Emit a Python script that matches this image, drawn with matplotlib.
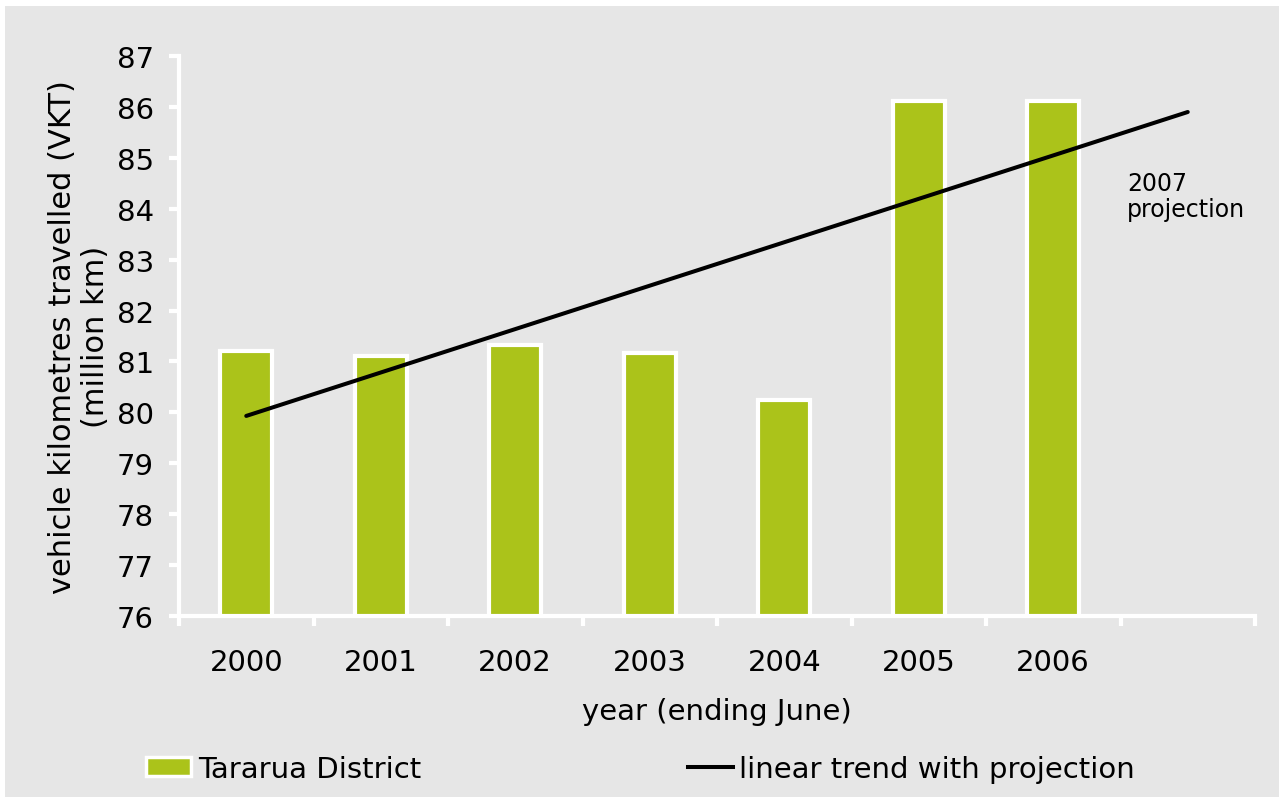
import matplotlib.pyplot as plt
from matplotlib.patches import Rectangle, Patch
from matplotlib.lines import Line2D

# data
years = ['2000', '2001', '2002', '2003', '2004', '2005', '2006']
vkt = [81.2, 81.1, 81.33, 81.17, 80.24, 86.12, 86.12]
trend_x = [0, 7]          # 2000 -> 2007 projection
trend_y = [79.93, 85.9]

bg = '#e6e6e6'
green = '#abc31a'

plt.rcParams['font.family'] = 'DejaVu Sans'
fs = 21

fig = plt.figure(figsize=(12.84, 8.03), dpi=100, facecolor='white')
fig.patches.append(Rectangle((5 / 1284, 5 / 803), 1274 / 1284, 791 / 803,
                             transform=fig.transFigure, facecolor=bg,
                             edgecolor='none', zorder=-10))

ax = fig.add_axes([179 / 1284, 186 / 803, 1076 / 1284, 560 / 803])
ax.set_facecolor(bg)

x = list(range(len(years)))
ax.bar(x, vkt, width=0.39, color=green, edgecolor='white', linewidth=3, zorder=2)
ax.plot(trend_x, trend_y, color='black', lw=2.9, solid_capstyle='round', zorder=3)

ax.set_xlim(-0.5, 7.5)
ax.set_ylim(76, 87)
ax.set_yticks(range(76, 88))

ax.set_xticks([i - 0.5 for i in range(9)])
ax.set_xticklabels([])
ax.set_xticks(x, minor=True)
ax.set_xticklabels(years, minor=True)
ax.tick_params(axis='x', which='minor', length=0, pad=23, labelsize=fs)
ax.tick_params(axis='x', which='major', length=7, width=3, color='white', direction='out')
ax.tick_params(axis='y', length=7, width=3, color='white', labelsize=fs, pad=11)

for s in ['top', 'right']:
    ax.spines[s].set_visible(False)
for s in ['left', 'bottom']:
    ax.spines[s].set_color('white')
    ax.spines[s].set_linewidth(3)

ax.set_xlabel('year (ending June)', fontsize=fs, labelpad=15)
ax.set_ylabel('vehicle kilometres travelled (VKT)\n(million km)', fontsize=22,
              labelpad=5, linespacing=1.15)

ax.text(6.55, 84.25, '2007\nprojection', fontsize=17, ha='left', va='center',
        linespacing=1.15)

fig.legend(handles=[Patch(facecolor=green, edgecolor='white', linewidth=2.5)],
           labels=['Tararua District'], loc='center left',
           bbox_to_anchor=(146 / 1284, 1 - 770 / 803), frameon=False,
           fontsize=fs, handlelength=1.55, handleheight=0.65, handletextpad=0.25,
           borderpad=0, borderaxespad=0)
fig.legend(handles=[Line2D([], [], color='black', lw=2.9)],
           labels=['linear trend with projection'], loc='center left',
           bbox_to_anchor=(688 / 1284, 1 - 770 / 803), frameon=False,
           fontsize=fs, handlelength=1.55, handletextpad=0.2,
           borderpad=0, borderaxespad=0)

fig.savefig('out.png', dpi=100, facecolor=fig.get_facecolor())
